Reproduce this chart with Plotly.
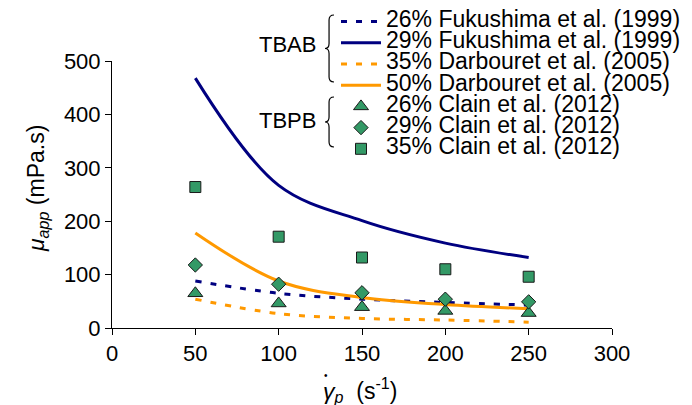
import plotly.graph_objects as go

# ---- data ----
shear_rate = [50, 100, 150, 200, 250]
fuku_26 = [88, 65, 54, 48, 43]
fuku_29 = [468, 267, 201, 159, 132]
darb_35 = [54, 27, 18, 15, 11]
darb_50 = [178, 88, 57, 44, 36]
clain_26 = [65, 46, 39, 32, 28]
clain_29 = [118, 82, 66, 54, 49]
clain_35 = [264, 171, 132, 110, 96]

line_names = ["26% Fukushima et al. (1999)", "29% Fukushima et al. (1999)",
              "35% Darbouret et al. (2005)", "50% Darbouret et al. (2005)"]
marker_names = ["26% Clain et al. (2012)", "29% Clain et al. (2012)",
                "35% Clain et al. (2012)"]

x_ticks = [0, 50, 100, 150, 200, 250, 300]
y_ticks = [0, 100, 200, 300, 400, 500]

FONT = "Liberation Sans, Arial, sans-serif"
NAVY = "#000080"
ORANGE = "#FF9900"
GREEN = "#339966"

W, H = 692, 405
ML, MR, MT, MB = 112, 80, 61, 77
PW, PH = W - ML - MR, H - MT - MB


def px(xp):
    return (xp - ML) / PW


def py(yp):
    return (H - MB - yp) / PH


def lbl(t):
    return f'<span style="font-size:23px">{t}</span>'


fig = go.Figure()

line_series = [(fuku_26, NAVY, "6px,9px"), (fuku_29, NAVY, "solid"),
               (darb_35, ORANGE, "6px,9px"), (darb_50, ORANGE, "solid")]
for (vals, col, dash), name in zip(line_series, line_names):
    fig.add_trace(go.Scatter(x=shear_rate, y=vals, mode="lines", name=lbl(name),
                             line=dict(color=col, width=3, dash=dash, shape="spline")))

marker_series = [(clain_26, "triangle-up", 13), (clain_29, "diamond", 11),
                 (clain_35, "square", 11)]
for (vals, sym, size), name in zip(marker_series, marker_names):
    fig.add_trace(go.Scatter(x=shear_rate, y=vals, mode="markers", name=lbl(name),
                             marker=dict(symbol=sym, size=size, color=GREEN,
                                         line=dict(color="#1a1a1a", width=1))))

axis_common = dict(showgrid=False, zeroline=False, showline=True, linecolor="#000",
                   linewidth=1, ticks="outside", ticklen=6, tickwidth=1, tickcolor="#000",
                   tickfont=dict(size=22, color="#000", family=FONT))

fig.update_xaxes(range=[0, 300], tickvals=x_ticks, **axis_common)
fig.update_yaxes(range=[0, 500], tickvals=y_ticks, **axis_common)


def brace(xl, yt, yb, w=9):
    # "{" shaped path, pixel coords -> paper coords
    xm = xl + w * 0.45
    xr = xl + w
    ym = (yt + yb) / 2
    r = 5
    pts = [
        f"M{px(xr)},{py(yt)}",
        f"Q{px(xm)},{py(yt)} {px(xm)},{py(yt + r)}",
        f"L{px(xm)},{py(ym - r)}",
        f"Q{px(xm)},{py(ym)} {px(xl)},{py(ym)}",
        f"Q{px(xm)},{py(ym)} {px(xm)},{py(ym + r)}",
        f"L{px(xm)},{py(yb - r)}",
        f"Q{px(xm)},{py(yb)} {px(xr)},{py(yb)}",
    ]
    return " ".join(pts)


shapes = [
    dict(type="path", xref="paper", yref="paper", path=brace(325, 15, 82),
         line=dict(color="#000", width=1.2)),
    dict(type="path", xref="paper", yref="paper", path=brace(325, 97, 147),
         line=dict(color="#000", width=1.2)),
]

annotations = [
    dict(text="TBAB", xref="paper", yref="paper", x=px(318), y=py(44),
         xanchor="right", yanchor="middle", showarrow=False,
         font=dict(size=22, family=FONT, color="#000")),
    dict(text="TBPB", xref="paper", yref="paper", x=px(318), y=py(120),
         xanchor="right", yanchor="middle", showarrow=False,
         font=dict(size=22, family=FONT, color="#000")),
    dict(text="<i>μ</i><sub><i>app</i></sub> (mPa.s)", xref="paper", yref="paper",
         x=px(37), y=py(189), xanchor="center", yanchor="middle", textangle=-90,
         showarrow=False, font=dict(size=23, family=FONT, color="#000")),
    dict(text="<i>γ</i><sub><i>p</i></sub>  (s<sup>-1</sup>)", xref="paper", yref="paper",
         x=px(360), y=py(390), xanchor="center", yanchor="middle",
         showarrow=False, font=dict(size=23, family=FONT, color="#000")),
    dict(text="•", xref="paper", yref="paper", x=px(326), y=py(375),
         xanchor="center", yanchor="middle", showarrow=False,
         font=dict(size=10, family=FONT, color="#000")),
]

fig.update_layout(
    width=W, height=H,
    margin=dict(l=ML, r=MR, t=MT, b=MB, pad=0, autoexpand=False),
    paper_bgcolor="white", plot_bgcolor="white",
    font=dict(family=FONT, color="#000"),
    showlegend=True,
    legend=dict(x=px(336), y=py(6), xanchor="left", yanchor="top",
                bgcolor="rgba(0,0,0,0)", borderwidth=0, itemwidth=40,
                font=dict(size=14, family=FONT, color="#000"),
                traceorder="normal", tracegroupgap=0),
    shapes=shapes,
    annotations=annotations,
)

fig.write_html("out.html", config={"displayModeBar": False},
               post_script="document.body.style.margin='0';document.body.style.padding='0';")
